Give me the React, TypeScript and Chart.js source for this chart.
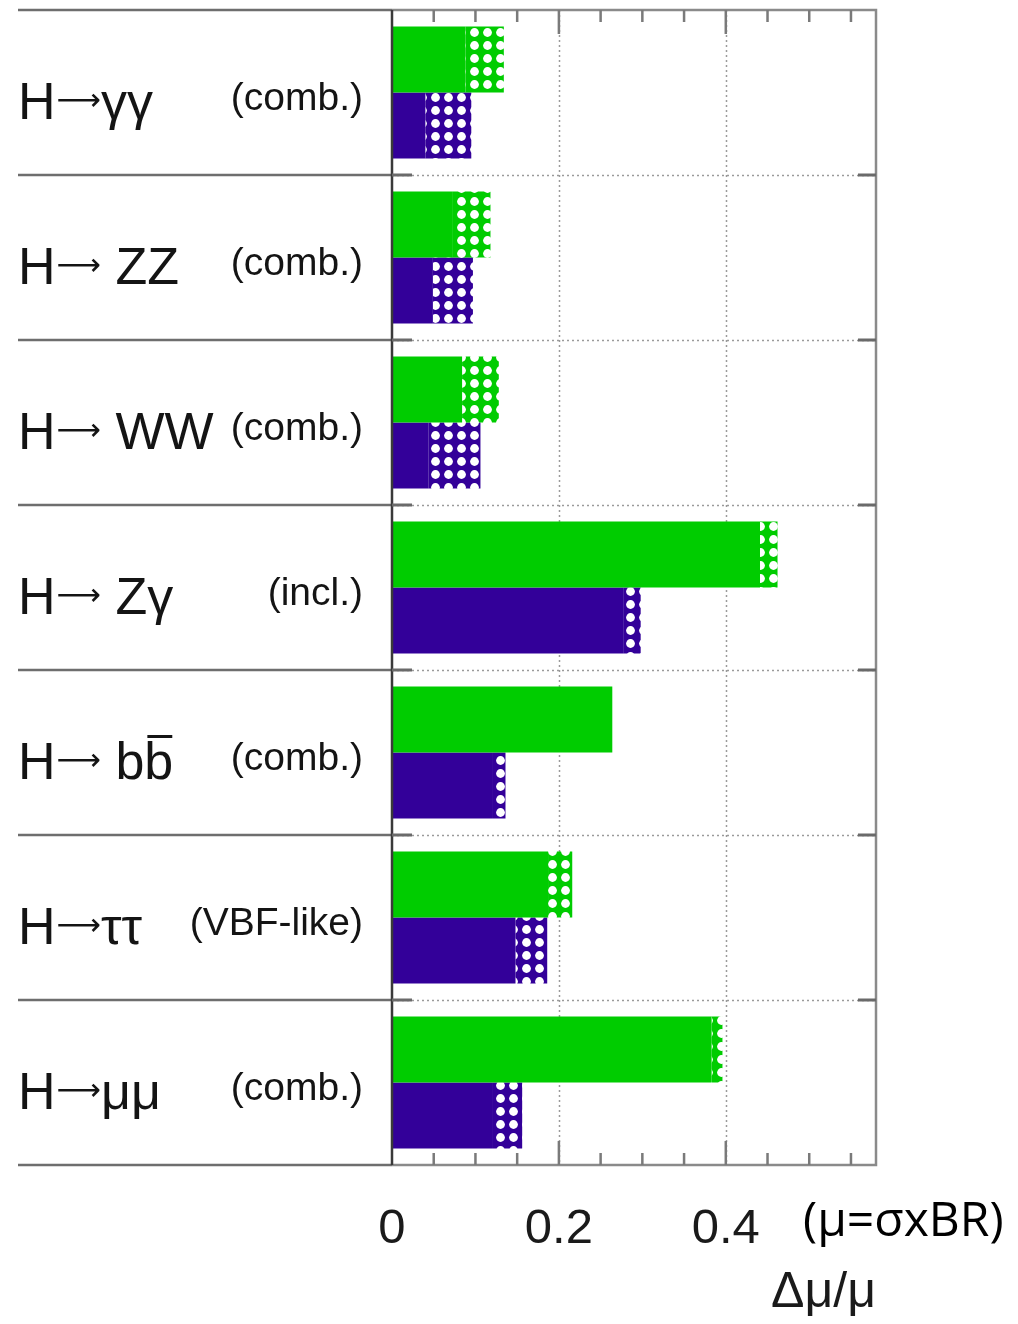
import React, { useEffect, useRef } from "react";
import { Chart, registerables } from "chart.js";

Chart.register(...registerables);

// ---- data ----
const decayLabels = ["H⟶γγ", "H⟶ ZZ", "H⟶ WW", "H⟶ Zγ", "H⟶ bb", "H⟶ττ", "H⟶μμ"];
const channelLabels = ["(comb.)", "(comb.)", "(comb.)", "(incl.)", "(comb.)", "(VBF-like)", "(comb.)"];
const greenSolid = [0.088, 0.073, 0.084, 0.441, 0.264, 0.187, 0.383];
const greenTotal = [0.134, 0.118, 0.128, 0.462, 0.264, 0.216, 0.396];
const purpleSolid = [0.040, 0.049, 0.044, 0.277, 0.121, 0.148, 0.121];
const purpleTotal = [0.095, 0.097, 0.106, 0.298, 0.136, 0.186, 0.156];
const xTickLabels = [0, 0.2, 0.4];
const xMinorStep = 0.05;
const xMax = 0.58;
const xUnitNote = "(μ=σxBR)";
const xTitle = "Δμ/μ";

const GREEN = "#00cc00";
const PURPLE = "#330099";
const ARROW = "⟶";

function makeDotPattern(color: string): CanvasPattern | string {
  const c = document.createElement("canvas");
  c.width = 13;
  c.height = 13;
  const g = c.getContext("2d");
  if (!g) return color;
  g.fillStyle = color;
  g.fillRect(0, 0, 13, 13);
  g.fillStyle = "#ffffff";
  g.beginPath();
  g.arc(6.5, 6.5, 4.4, 0, Math.PI * 2);
  g.fill();
  return g.createPattern(c, "repeat") || color;
}

const MAIN_FONT = '52px "Liberation Sans", Arial, sans-serif';
const ARROW_FONT = '31px "DejaVu Sans", sans-serif';

const framePlugin = {
  id: "framePlugin",
  beforeDatasetsDraw(chart: any) {
    const { ctx, chartArea: a, scales } = chart;
    const x = scales.x;
    const n = decayLabels.length;
    const rowH = (a.bottom - a.top) / n;
    ctx.save();
    ctx.strokeStyle = "#9a9a9a";
    ctx.lineWidth = 1.5;
    ctx.setLineDash([2, 3]);
    for (const v of xTickLabels) {
      if (v === 0) continue;
      const px = Math.round(x.getPixelForValue(v)) + 0.5;
      ctx.beginPath();
      ctx.moveTo(px, a.top);
      ctx.lineTo(px, a.bottom);
      ctx.stroke();
    }
    for (let k = 1; k < n; k++) {
      const py = Math.round(a.top + k * rowH) + 0.5;
      ctx.beginPath();
      ctx.moveTo(a.left, py);
      ctx.lineTo(a.right, py);
      ctx.stroke();
    }
    ctx.restore();
  },
  afterDatasetsDraw(chart: any) {
    const { ctx, chartArea: a, scales } = chart;
    const x = scales.x;
    const n = decayLabels.length;
    const rowH = (a.bottom - a.top) / n;
    ctx.save();
    ctx.setLineDash([]);

    ctx.strokeStyle = "#6e6e6e";
    ctx.lineWidth = 2.5;
    for (let k = 0; k <= n; k++) {
      const py = Math.round(a.top + k * rowH);
      ctx.beginPath();
      ctx.moveTo(18, py);
      ctx.lineTo(a.left, py);
      ctx.stroke();
    }

    ctx.strokeStyle = "#8a8a8a";
    ctx.lineWidth = 2.5;
    ctx.beginPath();
    ctx.moveTo(a.left, a.top);
    ctx.lineTo(a.right, a.top);
    ctx.lineTo(a.right, a.bottom);
    ctx.lineTo(a.left, a.bottom);
    ctx.stroke();

    ctx.strokeStyle = "#3a3a3a";
    ctx.lineWidth = 2.5;
    ctx.beginPath();
    ctx.moveTo(a.left, a.top);
    ctx.lineTo(a.left, a.bottom);
    ctx.stroke();

    ctx.strokeStyle = "#7a7a7a";
    ctx.lineWidth = 2.5;
    const steps = Math.floor(xMax / xMinorStep + 1e-6);
    for (let i = 1; i <= steps; i++) {
      const v = i * xMinorStep;
      const major = xTickLabels.some((t) => Math.abs(t - v) < 1e-6);
      const len = major ? 24 : 12;
      const px = x.getPixelForValue(v);
      ctx.beginPath();
      ctx.moveTo(px, a.top);
      ctx.lineTo(px, a.top + len);
      ctx.moveTo(px, a.bottom);
      ctx.lineTo(px, a.bottom - len);
      ctx.stroke();
    }

    ctx.strokeStyle = "#6a6a6a";
    ctx.lineWidth = 3;
    for (let k = 1; k < n; k++) {
      const py = Math.round(a.top + k * rowH);
      ctx.beginPath();
      ctx.moveTo(a.left, py);
      ctx.lineTo(a.left + 20, py);
      ctx.moveTo(a.right, py);
      ctx.lineTo(a.right - 18, py);
      ctx.stroke();
    }

    ctx.fillStyle = "#141414";
    ctx.textBaseline = "alphabetic";
    for (let k = 0; k < n; k++) {
      const cy = a.top + (k + 0.5) * rowH;
      const base = cy + 26;
      const [head, tail] = decayLabels[k].split(ARROW);
      ctx.textAlign = "left";
      ctx.font = MAIN_FONT;
      let px = 18;
      ctx.fillText(head, px, base);
      px += ctx.measureText(head).width + 1;
      ctx.font = ARROW_FONT;
      ctx.fillText(ARROW, px, base - 9);
      px += ctx.measureText(ARROW).width;
      ctx.font = MAIN_FONT;
      ctx.fillText(tail, px, base);
      if (k === 4) {
        const w1 = ctx.measureText(tail.slice(0, -1)).width;
        const w2 = ctx.measureText(tail).width;
        ctx.save();
        ctx.strokeStyle = "#141414";
        ctx.lineWidth = 3;
        ctx.beginPath();
        ctx.moveTo(px + w1 + 3, base - 42);
        ctx.lineTo(px + w2 - 1, base - 42);
        ctx.stroke();
        ctx.restore();
      }
      ctx.font = '39px "Liberation Sans", Arial, sans-serif';
      ctx.textAlign = "right";
      ctx.fillText(channelLabels[k], 363, cy + 17);
    }

    ctx.font = '49px "Liberation Sans", Arial, sans-serif';
    ctx.fillStyle = "#1a1a1a";
    ctx.textAlign = "center";
    ctx.textBaseline = "alphabetic";
    for (const v of xTickLabels) {
      const px = x.getPixelForValue(v);
      ctx.fillText(String(v), px, 1243);
    }

    ctx.font = '48px "Open Sans", sans-serif';
    ctx.textAlign = "left";
    ctx.fillStyle = "#000";
    ctx.fillText(xUnitNote, 803, 1236);

    ctx.font = '50px "Liberation Sans", Arial, sans-serif';
    ctx.textAlign = "right";
    ctx.fillStyle = "#1a1a1a";
    ctx.fillText(xTitle, a.right, 1307);

    ctx.restore();
  },
};

export default function App() {
  const ref = useRef<HTMLCanvasElement | null>(null);

  useEffect(() => {
    if (!ref.current) return;
    const gPat = makeDotPattern(GREEN);
    const pPat = makeDotPattern(PURPLE);
    const idx = decayLabels.map((_, i) => String(i));
    const chart = new Chart(ref.current, {
      type: "bar",
      data: {
        labels: idx,
        datasets: [
          { label: "green", data: greenSolid, stack: "g", backgroundColor: GREEN, borderWidth: 0 },
          { label: "green-ext", data: greenTotal.map((t, i) => t - greenSolid[i]), stack: "g", backgroundColor: gPat as any, borderWidth: 0 },
          { label: "purple", data: purpleSolid, stack: "p", backgroundColor: PURPLE, borderWidth: 0 },
          { label: "purple-ext", data: purpleTotal.map((t, i) => t - purpleSolid[i]), stack: "p", backgroundColor: pPat as any, borderWidth: 0 },
        ],
      },
      options: {
        indexAxis: "y",
        animation: false,
        responsive: false,
        maintainAspectRatio: false,
        datasets: { bar: { categoryPercentage: 0.8, barPercentage: 1.0 } },
        layout: { padding: { left: 392, right: 142, top: 10, bottom: 159 } },
        plugins: { legend: { display: false }, tooltip: { enabled: false } },
        scales: {
          x: { type: "linear", min: 0, max: xMax, stacked: true, display: false },
          y: { type: "category", stacked: true, display: false },
        },
      },
      plugins: [framePlugin],
    });
    return () => chart.destroy();
  }, []);

  return (
    <div style={{ position: "absolute", left: 0, top: 0, width: 1018, height: 1324, background: "#fff" }}>
      <canvas ref={ref} width={1018} height={1324} style={{ display: "block" }} />
    </div>
  );
}
